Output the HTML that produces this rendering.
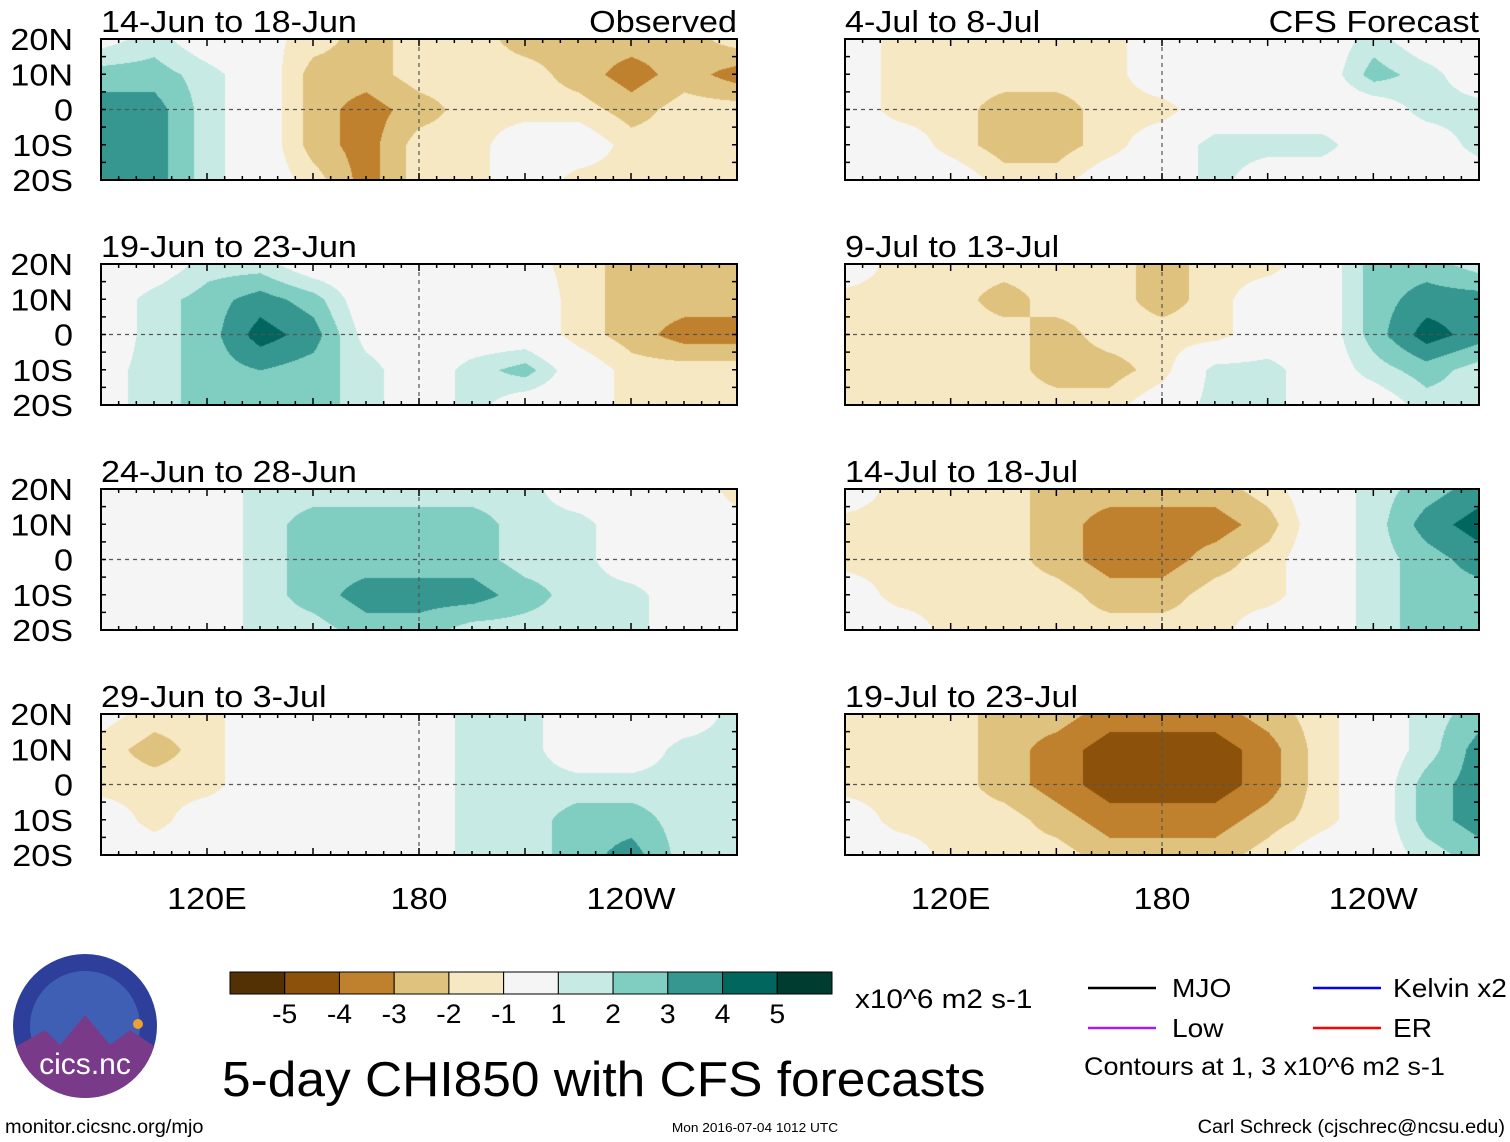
<!DOCTYPE html>
<html><head><meta charset="utf-8">
<style>
html,body{margin:0;padding:0;background:#fff;}
#root{position:relative;width:1510px;height:1142px;overflow:hidden;font-family:"Liberation Sans",sans-serif;}
canvas{position:absolute;left:0;top:0;}
svg{position:absolute;left:0;top:0;}
</style></head>
<body>
<div id="root">
<canvas id="cv" width="1510" height="1142"></canvas>
<svg id="sv" width="1510" height="1142"></svg>
</div>
<script>
// grid lons 90..270 step 15, lats 20N,10N,0,10S,20S
const lons=[90,105,120,135,150,165,180,195,210,225,240,255,270];
const lats=[20,10,0,-10,-20];
const titles=["14-Jun to 18-Jun","19-Jun to 23-Jun","24-Jun to 28-Jun","29-Jun to 3-Jul","4-Jul to 8-Jul","9-Jul to 13-Jul","14-Jul to 18-Jul","19-Jul to 23-Jul"];
const p1=[[0.5,1.5,0,-0.5,-1.5,-2.5,-1.5,-1.5,-2.5,-2.5,-2.5,-2.5,-1.5],[2.5,2.5,1.5,0,-2.5,-2.5,-1.5,-1.5,-1.5,-2.5,-3.5,-2.5,-3.5],[3.5,3.5,1.5,0,-2.5,-3.5,-2.5,-1.5,-1.5,-1.5,-2.5,-1.5,-1.5],[3.5,3.5,1.5,0,-2.5,-3.5,-1.5,-1.5,0,0,-1.5,-1.5,-1.5],[3.5,3.5,1.5,0,-1.5,-3.5,-1.5,-1.5,0,-1.5,-1.5,-1.5,-1.5]];
const p2=[[0,0,1.5,1.5,0,0,0,0,-0.5,-1.5,-2.5,-2.5,-2.5],[0,1.5,2.5,3.5,2.5,0,0,0,0,-1.5,-2.5,-2.5,-2.5],[0,1.5,2.5,4.5,3.5,0.5,0,0,0,-1.5,-2.5,-3.5,-3.5],[0.5,1.5,2.5,3,2.5,1.5,0,1.5,2.5,0,-1.5,-1.5,-1.5],[0.5,1.5,2.5,2.5,2.5,1.5,0,1.5,0,0,-1.5,-1.5,-1.5]];
const p3=[[0,0,0,1.5,1.5,1.5,1.5,1.5,1.5,0,0,0,-1.5],[0,0,0,1.5,2.5,2.5,2.5,2.5,1.5,1.5,0,0,-0.5],[0,0,0,1.5,2.5,2.5,2.5,2.5,1.5,1.5,0,0,0],[0,0,0,1.5,2.5,3.5,3.5,3.5,2.5,1.5,1.5,0,0],[0,0,0,1.5,1.5,2.5,2.5,1.5,1.5,1.5,1.5,0,0]];
const p4=[[-0.5,-1.5,-1.5,0,0,0,0,1.5,1.5,0,0,0,1.5],[-1.5,-2.5,-1.5,0,0,0,0,1.5,1.5,0,0,1.5,1.5],[-1.5,-1.5,-1.5,0,0,0,0,1.5,1.5,1.5,1.5,1.5,1.5],[0,-1.5,0,0,0,0,0,1.5,1.5,2.5,2.5,1.5,1.5],[0,0,0,0,0,0,0,1.5,1.5,2.5,3.5,1.5,1.5]];
const p5=[[0,-1.5,-1.5,-1.5,-1.5,-1.5,0,0,0,0,1.5,0,0],[0,-1.5,-1.5,-1.5,-1.5,-1.5,0,0,-0.5,0,2.5,1.5,0],[0,-1.5,-1.5,-2.5,-2.5,-1.5,-1.5,0,0,0,0,1.5,1.5],[0,0,-1.5,-2.5,-2.5,-1.5,0,1.5,1.5,1.5,0,0,1.5],[0,0,0,-1.5,-1.5,0,0,1.5,0,0,0,0,0]];
const p6=[[0,-1.5,-1.5,-1.5,-1.5,-1.5,-2.5,-1.5,-1.5,0,2.5,2.5,1.5],[-1.5,-1.5,-1.5,-2.5,-1.5,-1.5,-2.5,-1.5,0,0,2.5,3.5,3.5],[-1.5,-1.5,-1.5,-1.5,-2.5,-1.5,-1.5,-1.5,0,0,2.5,4.5,3.5],[-1.5,-1.5,-1.5,-1.5,-2.5,-2.5,-1.5,1.5,1.5,0,1.5,2.5,1.5],[-1.5,-1.5,-1.5,-1.5,-1.5,-1.5,0,1.5,1.5,0,0,1.5,1.5]];
const p7=[[0,-1.5,-1.5,-1.5,-2.5,-2.5,-2.5,-2.5,-1.5,0,1.5,2.5,3.5],[-1.5,-1.5,-1.5,-1.5,-2.5,-3.5,-3.5,-3.5,-2.5,0,1.5,3.5,4.5],[-1.5,-1.5,-1.5,-1.5,-2.5,-3.5,-3.5,-2.5,-1.5,0,1.5,2.5,3.5],[0,-1.5,-1.5,-1.5,-1.5,-2.5,-2.5,-1.5,-1.5,0,1.5,2.5,2.5],[0,0,-1.5,-1.5,-1.5,-1.5,-1.5,-1.5,0,0,1.5,2.5,2.5]];
const p8=[[-1.5,-1.5,-1.5,-2.5,-2.5,-3.5,-3.5,-3.5,-2.5,-1.5,0,1.5,2.5],[-1.5,-1.5,-1.5,-2.5,-3.5,-4.5,-4.5,-4.5,-3.5,-1.5,0,1.5,3.5],[-1.5,-1.5,-1.5,-2.5,-3.5,-4.5,-4.5,-4.5,-3.5,-1.5,0,2.5,3.5],[0,-1.5,-1.5,-1.5,-2.5,-3.5,-3.5,-3.5,-2.5,-1.5,0,2.5,3.5],[0,0,-1.5,-1.5,-1.5,-2.5,-2.5,-2.5,-1.5,0,0,1.5,2.5]];
const fields=[p1,p2,p3,p4,p5,p6,p7,p8];
const cbarLabels=["-5","-4","-3","-2","-1","1","2","3","4","5"];
const cols=["#543005","#8c510a","#bf812d","#dfc27d","#f6e8c3","#f5f5f5","#c7eae5","#80cdc1","#35978f","#01665e","#003c30"];
const bounds=[-5,-4,-3,-2,-1,1,2,3,4,5];
function colIdx(v){let i=0;while(i<bounds.length&&v>=bounds[i])i++;return i;}
function hex(c){return [parseInt(c.slice(1,3),16),parseInt(c.slice(3,5),16),parseInt(c.slice(5,7),16)];}
const rgb=cols.map(hex);
const panels=[];
const rowsY=[39,264,489,714],H=141;
for(let k=0;k<8;k++){const left=k<4;panels.push({x:left?101:845,w:left?636:634,y:rowsY[k%4],h:H});}
const xScale=(p,lon)=>p.x+(lon-90)/180*p.w;
const yScale=(p,lat)=>p.y+(20-lat)/40*p.h;
const cv=document.getElementById('cv'),ctx=cv.getContext('2d');
ctx.fillStyle="#fff";ctx.fillRect(0,0,1510,1142);
panels.forEach((p,k)=>{
  const f=fields[k];const img=ctx.createImageData(p.w,p.h);
  for(let y=0;y<p.h;y++){const lat=20-y/p.h*40;const fj=(lats[0]-lat)/10;const j0=Math.min(3,Math.floor(fj)),ty=fj-j0;
    for(let x=0;x<p.w;x++){const lon=90+x/p.w*180;const fi=(lon-lons[0])/15;const i0=Math.min(11,Math.floor(fi)),tx=fi-i0;
      const v=(f[j0][i0]*(1-tx)+f[j0][i0+1]*tx)*(1-ty)+(f[j0+1][i0]*(1-tx)+f[j0+1][i0+1]*tx)*ty;
      const c=rgb[colIdx(v)];const o=(y*p.w+x)*4;img.data[o]=c[0];img.data[o+1]=c[1];img.data[o+2]=c[2];img.data[o+3]=255;}}
  ctx.putImageData(img,p.x,p.y);
});
const sv=document.getElementById('sv');const NS="http://www.w3.org/2000/svg";
function el(tag,attrs,parent){const e=document.createElementNS(NS,tag);for(const a in attrs)e.setAttribute(a,attrs[a]);(parent||sv).appendChild(e);return e;}
function txt(s,x,y,size,anchor,parent,stretch){const t=el('text',{x:x,y:y,'font-size':size,'text-anchor':anchor||'start',fill:'#000','font-family':'Liberation Sans, sans-serif'},parent);t.textContent=s;
  const L=t.getComputedTextLength();if(L>0){t.setAttribute('textLength',(L*(stretch||1.1)).toFixed(1));t.setAttribute('lengthAdjust','spacingAndGlyphs');}return t;}
panels.forEach((p,k)=>{
  const g=el('g',{});
  
  
  el('line',{x1:p.x,x2:p.x+p.w,y1:yScale(p,0),y2:yScale(p,0),stroke:'#555','stroke-width':1.2,'stroke-dasharray':'4,4'},g);
  el('line',{x1:xScale(p,180),x2:xScale(p,180),y1:p.y,y2:p.y+p.h,stroke:'#555','stroke-width':1.2,'stroke-dasharray':'4,4'},g);
  for(let lon=90;lon<=270;lon+=5){const x=xScale(p,lon);const L=lon%30==0?7:4;
    el('line',{x1:x,x2:x,y1:p.y,y2:p.y+L,stroke:'#000','stroke-width':1.5},g);
    el('line',{x1:x,x2:x,y1:p.y+p.h,y2:p.y+p.h-L,stroke:'#000','stroke-width':1.5},g);}
  for(let lat=-20;lat<=20;lat+=5){const y=yScale(p,lat);
    el('line',{x1:p.x,x2:p.x+5,y1:y,y2:y,stroke:'#000','stroke-width':1.5},g);
    el('line',{x1:p.x+p.w,x2:p.x+p.w-5,y1:y,y2:y,stroke:'#000','stroke-width':1.5},g);}
  el('rect',{x:p.x,y:p.y,width:p.w,height:p.h,fill:'none',stroke:'#000','stroke-width':2},g);
  const t=txt(titles[k],p.x,p.y-7,31,'start',g);
  
  
  if(k<4){const ll=["20N","10N","0","10S","20S"];lats.forEach((lat,i)=>{txt(ll[i],73,yScale(p,lat)+11,31,'end',g);});}
});
txt("Observed",737,32,31,'end');
txt("CFS Forecast",1479,32,31,'end');
[[panels[3]],[panels[7]]].forEach(([p])=>{
  [[120,"120E"],[180,"180"],[240,"120W"]].forEach(([lon,s])=>{const t=txt(s,xScale(p,lon),909,31,'middle');});
});
// colorbar
const cb=el('g',{});


const cbX=230,cbW=602/11;
cols.forEach((c,i)=>{el('rect',{x:cbX+i*cbW,y:972,width:cbW,height:22,fill:c,stroke:'#000','stroke-width':1},cb);});
cbarLabels.forEach((s,i)=>{txt(s,cbX+(i+1)*cbW,1023,27,'middle',cb,1.05);});
txt("x10^6 m2 s-1",855,1008,27,'start',cb,1.1);
// legend
const lg=el('g',{});


[["MJO","#000",1088,1172,988],["Low","#a020f0",1088,1172,1028],["Kelvin x2","#0000ff",1313,1393,988],["ER","#ff0000",1313,1393,1028]].forEach(([n,c,x,tx,y])=>{
  el('line',{x1:x,x2:x+68,y1:y,y2:y,stroke:c,'stroke-width':2.5},lg);txt(n,tx,y+9,26,'start',lg,1.08);});
txt("Contours at 1, 3 x10^6 m2 s-1",1084,1075,25,'start',lg,1.08);
txt("5-day CHI850 with CFS forecasts",222,1096,49,'start',null,1.05);
txt("monitor.cicsnc.org/mjo",5,1133,19,'start',null,1.05);
txt("Mon 2016-07-04 1012 UTC",755,1132,13,'middle',null,1.05);
txt("Carl Schreck (cjschrec@ncsu.edu)",1505,1133,19,'end',null,1.05);
// logo
const lo=el('g',{});


const defs=el('defs',{});
const cp=el('clipPath',{id:'logoclip'},defs);
el('circle',{cx:85,cy:1026,r:72},cp);
el('circle',{cx:85,cy:1026,r:72,fill:'#2d3f9a'},lo);
el('circle',{cx:85,cy:1026,r:55,fill:'#3f5fb5'},lo);
el('path',{d:'M10 1050 L45 1030 L60 1045 L85 1015 L110 1045 L130 1030 L160 1050 L160 1100 L10 1100 Z',fill:'#7a3a8a','clip-path':'url(#logoclip)'},lo);
el('circle',{cx:138,cy:1024,r:5,fill:'#f0a030'},lo);
const lt=txt("cics.nc",85,1074,30,'middle',lo,1.0);lt.setAttribute('fill','#fff');
</script>
</body></html>
